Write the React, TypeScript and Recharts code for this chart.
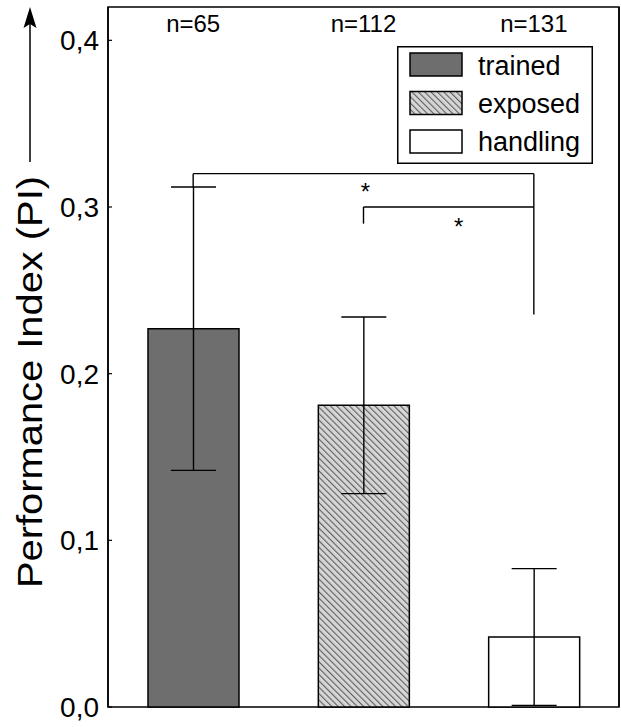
import React from 'react'
import {
  BarChart, Bar, Cell, XAxis, YAxis, ErrorBar, ReferenceLine, ReferenceArea, Legend
} from 'recharts'

const FONT = '"Liberation Sans", Arial, Helvetica, sans-serif'

const groups = ['trained', 'exposed', 'handling']
const meanPI = [0.227, 0.181, 0.042]
const errPI = [0.085, 0.053, 0.041]
const sampleSizes = ['n=65', 'n=112', 'n=131']
const yTicks = [0, 0.1, 0.2, 0.3, 0.4]
const fills = ['#6e6e6e', 'url(#hatch)', '#ffffff']

// significance brackets, in data units
const bracketLines = [
  { a: { x: 'trained', y: 0.32 }, b: { x: 'handling', y: 0.32 }, star: true, dx: 2, dy: 18 },
  { a: { x: 'trained', y: 0.32 }, b: { x: 'trained', y: 0.312 } },
  { a: { x: 'handling', y: 0.32 }, b: { x: 'handling', y: 0.2355 } },
  { a: { x: 'exposed', y: 0.3 }, b: { x: 'handling', y: 0.3 }, star: true, dx: 10, dy: 19 },
  { a: { x: 'exposed', y: 0.3 }, b: { x: 'exposed', y: 0.29 } },
]

const data = groups.map((g, i) => ({ group: g, pi: meanPI[i], err: errPI[i], n: sampleSizes[i] }))

const LeftTick = (props: any) => {
  const { x, y, payload } = props
  return (
    <g>
      <line x1={x + 9} y1={y} x2={x + 13} y2={y} stroke="#000" strokeWidth={1.2} />
      <text x={x} y={y} dy="0.36em" textAnchor="end" fontSize={28} fill="#000" fontFamily={FONT}>
        {payload.value.toFixed(1).replace('.', ',')}
      </text>
    </g>
  )
}

const RightTick = (props: any) => {
  const { x, y } = props
  return <line x1={x - 4} y1={y} x2={x} y2={y} stroke="#000" strokeWidth={1.2} />
}

const NTick = (props: any) => {
  const { x, payload } = props
  return (
    <text x={x} y={32} textAnchor="middle" fontSize={24} fill="#000" fontFamily={FONT}>
      {payload.value}
    </text>
  )
}

const AxisTitle = () => (
  <g>
    <line x1={30} y1={162} x2={30} y2={24} stroke="#000" strokeWidth={1.5} />
    <polygon points="30,7 23.5,28 30,24 36.5,28" fill="#000" />
    <text x={29} y={382} transform="rotate(-90 29 382)" textAnchor="middle" dominantBaseline="central"
      fontSize={35} textLength={412} lengthAdjust="spacingAndGlyphs" fill="#000" fontFamily={FONT}>
      Performance Index (PI)
    </text>
  </g>
)

const LegendBox = () => (
  <svg width={196} height={118} style={{ display: 'block' }}>
    <rect x={0.75} y={0.75} width={194.5} height={116.5} fill="#fff" stroke="#000" strokeWidth={1.5} />
    {groups.map((g, i) => (
      <g key={g}>
        <rect x={13} y={7 + i * 38.5} width={52} height={23} fill={fills[i]} stroke="#000" strokeWidth={1.5} />
        <text x={81} y={29 + i * 38} fontSize={27} fill="#000" fontFamily={FONT}>{g}</text>
      </g>
    ))}
  </svg>
)

export default function App() {
  return (
    <div style={{ position: 'absolute', left: 0, top: 0, fontFamily: FONT, background: '#fff' }}>
      <BarChart width={621} height={727} data={data} margin={{ top: 7, right: 0, bottom: 20, left: 0 }}>
        <defs>
          <pattern id="hatch" patternUnits="userSpaceOnUse" width={4.5} height={4.5} patternTransform="rotate(-45)">
            <rect width={4.5} height={4.5} fill="#d6d6d6" />
            <line x1={0} y1={0} x2={0} y2={4.5} stroke="#5e5e5e" strokeWidth={2.2} />
          </pattern>
        </defs>
        <XAxis dataKey="group" hide />
        <XAxis xAxisId="top" dataKey="n" orientation="top" mirror axisLine={false} tickLine={false} tick={NTick} />
        <YAxis domain={[0, 0.42]} ticks={yTicks} width={108} tickSize={0} tickMargin={9}
          axisLine={{ stroke: '#000', strokeWidth: 1.5 }} tickLine={false} tick={LeftTick}
          label={<AxisTitle />} />
        <YAxis yAxisId="right" orientation="right" domain={[0, 0.42]} ticks={yTicks} width={2}
          tickSize={0} tickMargin={0} axisLine={{ stroke: '#000', strokeWidth: 1.5 }} tickLine={false} tick={RightTick} />
        <ReferenceArea y1={0} y2={0.42} fill="none" stroke="#000" strokeWidth={1.5} fillOpacity={0} />
        <Legend layout="horizontal" verticalAlign="middle" align="center" content={<LegendBox />}
          wrapperStyle={{ left: 397, top: 46, width: 196, height: 118 }} />
        <Bar dataKey="pi" barSize={91} isAnimationActive={false}>
          {data.map((d, i) => <Cell key={d.group} fill={fills[i]} stroke="#000" strokeWidth={1.5} />)}
          <ErrorBar dataKey="err" width={22.5} stroke="#000" strokeWidth={1.4} direction="y" isAnimationActive={false} />
        </Bar>
        {bracketLines.map((s, i) => (
          <ReferenceLine key={i} segment={[s.a, s.b]} stroke="#000" strokeWidth={1.4} ifOverflow="visible"
            label={s.star ? { value: '*', position: 'center', dx: s.dx, dy: s.dy, fontSize: 24, fill: '#000' } : undefined} />
        ))}
      </BarChart>
    </div>
  )
}
